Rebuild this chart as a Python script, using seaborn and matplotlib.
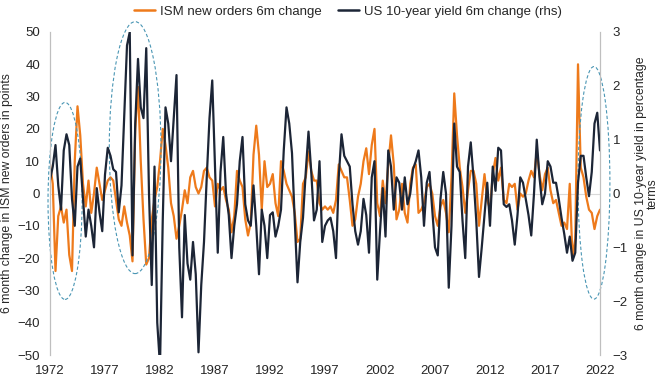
import numpy as np
import pandas as pd
import matplotlib
matplotlib.use("Agg")
import matplotlib.pyplot as plt
from matplotlib.patches import Ellipse
from matplotlib.lines import Line2D
import seaborn as sns

# Quarterly readings, Q1 1972 .. Q1 2022 (one row per year)
ism_change = [
    9, 3, -24, -7,      # 1972
    -4, -9, -5, -19,    # 1973
    -24, 10, 27, 18,    # 1974
    3, -4, 4, -6,       # 1975
    0, 8, 3, -2,        # 1976
    1, 4, 5, 4,         # 1977
    -2, -8, -10, -4,    # 1978
    -9, -13, -21, 20,   # 1979
    33, 10, -8, -22,    # 1980
    -20, -8, -2, 2,     # 1981
    10, 20, 15, 8,      # 1982
    -3, -7, -14, -10,   # 1983
    -5, 1, -3, 5,       # 1984
    7, 2, 0, 2,         # 1985
    7, 8, 5, 4,         # 1986
    -4, 3, 1, 2,        # 1987
    -2, -5, -12, -7,    # 1988
    7, 4, 2, -8,        # 1989
    -13, -9, 12, 21,    # 1990
    12, -5, 10, 2,      # 1991
    3, 6, -3, -7,       # 1992
    10, 7, 3, 1,        # 1993
    -1, -6, -15, -14,   # 1994
    3, 5, 13, 7,        # 1995
    4, 4, -3, -5,       # 1996
    -4, -5, -4, -6,     # 1997
    -2, 9, 7, 5,        # 1998
    5, -2, -10, -8,     # 1999
    -1, 3, 10, 14,      # 2000
    6, 15, 20, -3,      # 2001
    -7, 4, -3, 9,       # 2002
    18, 9, -8, -5,      # 2003
    3, -6, -9, 3,       # 2004
    8, 9, -6, -5,       # 2005
    -3, 2, 3, 0,        # 2006
    -7, -10, -4, -2,    # 2007
    -6, -12, 5, 31,     # 2008
    18, 8, 2, -6,       # 2009
    1, 7, 7, 3,         # 2010
    -10, -2, 6, -2,     # 2011
    -5, 6, 11, 4,       # 2012
    8, -2, -3, 3,       # 2013
    2, 3, -5, 0,        # 2014
    -1, 0, 4, 7,        # 2015
    5, 13, 6, 1,        # 2016
    6, 8, 1, -3,        # 2017
    -2, -6, -10, -9,    # 2018
    -11, 3, -20, -14,   # 2019
    40, 8, 5, -1,       # 2020
    -5, -6, -11, -7,    # 2021
    -5,                 # 2022
]

yield_change = [
    0.25, 0.5, 0.9, 0.15,     # 1972
    -0.3, 0.8, 1.1, 0.9,      # 1973
    -0.1, -0.6, 0.5, 0.65,    # 1974
    -0.1, -0.8, -0.3, -0.6,   # 1975
    -1.0, 0.1, -0.35, -0.7,   # 1976
    0.35, 0.85, 0.7, 0.45,    # 1977
    0.4, -0.35, 0.15, 1.45,   # 1978
    2.75, 3.0, -1.15, 1.3,    # 1979
    2.5, 1.6, 1.4, 2.7,       # 1980
    0.0, -1.7, 0.5, -2.4,     # 1981
    -3.2, -0.5, 1.6, 1.3,     # 1982
    0.6, 1.4, 2.2, -1.0,      # 1983
    -2.3, -0.4, -1.3, -1.6,   # 1984
    -0.9, -1.5, -2.95, -1.7,  # 1985
    -0.9, 0.3, 1.4, 2.1,      # 1986
    0.5, -1.1, 0.4, 1.05,     # 1987
    0.0, -0.4, -1.2, -0.6,    # 1988
    -0.2, 0.6, 1.05, -0.2,    # 1989
    -0.5, -0.6, 0.15, -0.6,   # 1990
    -1.5, -0.3, -0.6, -1.2,   # 1991
    -0.4, -0.35, -0.8, -0.6,  # 1992
    -0.3, 0.8, 1.6, 1.3,      # 1993
    0.75, -0.5, -1.65, -0.9,  # 1994
    -0.45, 0.4, 1.15, 0.4,    # 1995
    -0.5, -0.3, 0.6, -0.9,    # 1996
    -0.6, -0.5, -0.45, -0.7,  # 1997
    -1.2, 0.3, 1.1, 0.7,      # 1998
    0.6, 0.5, -0.2, -0.7,     # 1999
    -0.95, -0.7, -0.1, -0.4,  # 2000
    -1.1, 0.3, 0.6, -1.6,     # 2001
    -0.7, 0.1, -0.8, 0.8,     # 2002
    0.5, -0.3, 0.3, 0.2,      # 2003
    -0.3, 0.3, -0.2, 0.0,     # 2004
    0.45, 0.6, 0.8, 0.3,      # 2005
    -0.6, 0.2, 0.4, -0.3,     # 2006
    -1.0, -1.15, -0.1, 0.4,   # 2007
    0.0, -1.75, -0.6, 1.3,    # 2008
    0.5, 0.4, -0.5, -1.2,     # 2009
    0.5, 0.95, 0.3, -0.5,     # 2010
    -1.55, -1.0, -0.4, 0.2,   # 2011
    -0.6, 0.5, 0.05, 0.85,    # 2012
    0.8, -0.2, -0.25, -0.2,   # 2013
    -0.5, -0.95, -0.4, 0.3,   # 2014
    0.2, -0.1, -0.4, -0.78,   # 2015
    0.0, 1.0, 0.3, -0.2,      # 2016
    0.0, 0.6, 0.5, 0.2,       # 2017
    0.2, -0.1, -0.45, -0.75,  # 2018
    -1.1, -0.8, -1.25, -1.1,  # 2019
    0.2, 0.7, 0.7, 0.3,       # 2020
    -0.05, 0.4, 1.3, 1.5,     # 2021
    0.8,                      # 2022
]

year_ticks = [1972, 1977, 1982, 1987, 1992, 1997, 2002, 2007, 2012, 2017, 2022]
ism_ticks = [-50, -40, -30, -20, -10, 0, 10, 20, 30, 40, 50]
yield_ticks = [-3, -2, -1, 0, 1, 2, 3]

# highlighted periods: (centre year, centre ISM value, width in years, height in ISM points)
highlights = [(1973.37, -2.3, 3.1, 61), (1979.74, 14.2, 4.7, 78), (2021.45, 3.3, 2.9, 72)]

df = pd.DataFrame({"date": 1972 + np.arange(len(ism_change)) / 4,
                   "ism": ism_change, "yld": yield_change})

orange = "#EE7A1B"
navy = "#1C2536"
grey = "#BFBFBF"
text_col = "#262626"

sns.set_style("white")
plt.rcParams["font.family"] = ["Liberation Sans", "DejaVu Sans"]

fig = plt.figure(figsize=(6.6, 3.83), dpi=100)
ax = fig.add_axes([50 / 660, 1 - 355 / 383, 550 / 660, 323 / 383])
ax2 = ax.twinx()

ax.axhline(0, color="#D9D9D9", lw=0.8, zorder=0)
sns.lineplot(data=df, x="date", y="ism", ax=ax, color=orange, lw=1.6, legend=False)
sns.lineplot(data=df, x="date", y="yld", ax=ax2, color=navy, lw=1.6, legend=False)

ax.set_xlim(1972, 2022)
ax.set_ylim(-50, 50)
ax2.set_ylim(-3, 3)
ax.set_xticks(year_ticks)
ax.set_xticklabels([str(y) for y in year_ticks])
ax.set_yticks(ism_ticks)
ax2.set_yticks(yield_ticks)

for a in (ax, ax2):
    for s in ["top", "bottom"]:
        a.spines[s].set_visible(False)
    a.spines["left"].set_color(grey)
    a.spines["right"].set_color(grey)
    a.spines["left"].set_linewidth(0.8)
    a.spines["right"].set_linewidth(0.8)
    a.tick_params(length=0, labelsize=9.5, colors=text_col)
    a.grid(False)
ax.tick_params(axis="y", pad=7)
ax.tick_params(axis="x", pad=7)
ax2.tick_params(axis="y", pad=9)

ax.set_xlabel("")
ax.set_ylabel("6 month change in ISM new orders in points", fontsize=8.8, color=text_col)
ax.yaxis.set_label_coords(-0.067, 0.5)
ax2.set_ylabel("6 month change in US 10-year yield in percentage\nterms",
               fontsize=8.8, color=text_col, rotation=90, multialignment="center",
               linespacing=0.95)
ax2.yaxis.set_label_coords(1.064, 0.5)

for cx, cy, w, h in highlights:
    ax.add_patch(Ellipse((cx, cy), w, h, fill=False, ls=(0, (3, 2)), lw=0.8,
                         edgecolor="#4A96B4", clip_on=False, zorder=5))

handles = [Line2D([], [], color=orange, lw=1.8), Line2D([], [], color=navy, lw=1.8)]
fig.legend(handles, ["ISM new orders 6m change", "US 10-year yield 6m change (rhs)"],
           loc="center", bbox_to_anchor=(0.527, 0.969), ncol=2, frameon=False,
           fontsize=9.5, handlelength=1.6, handletextpad=0.4, columnspacing=1.2)

fig.savefig("out.png", dpi=100)
